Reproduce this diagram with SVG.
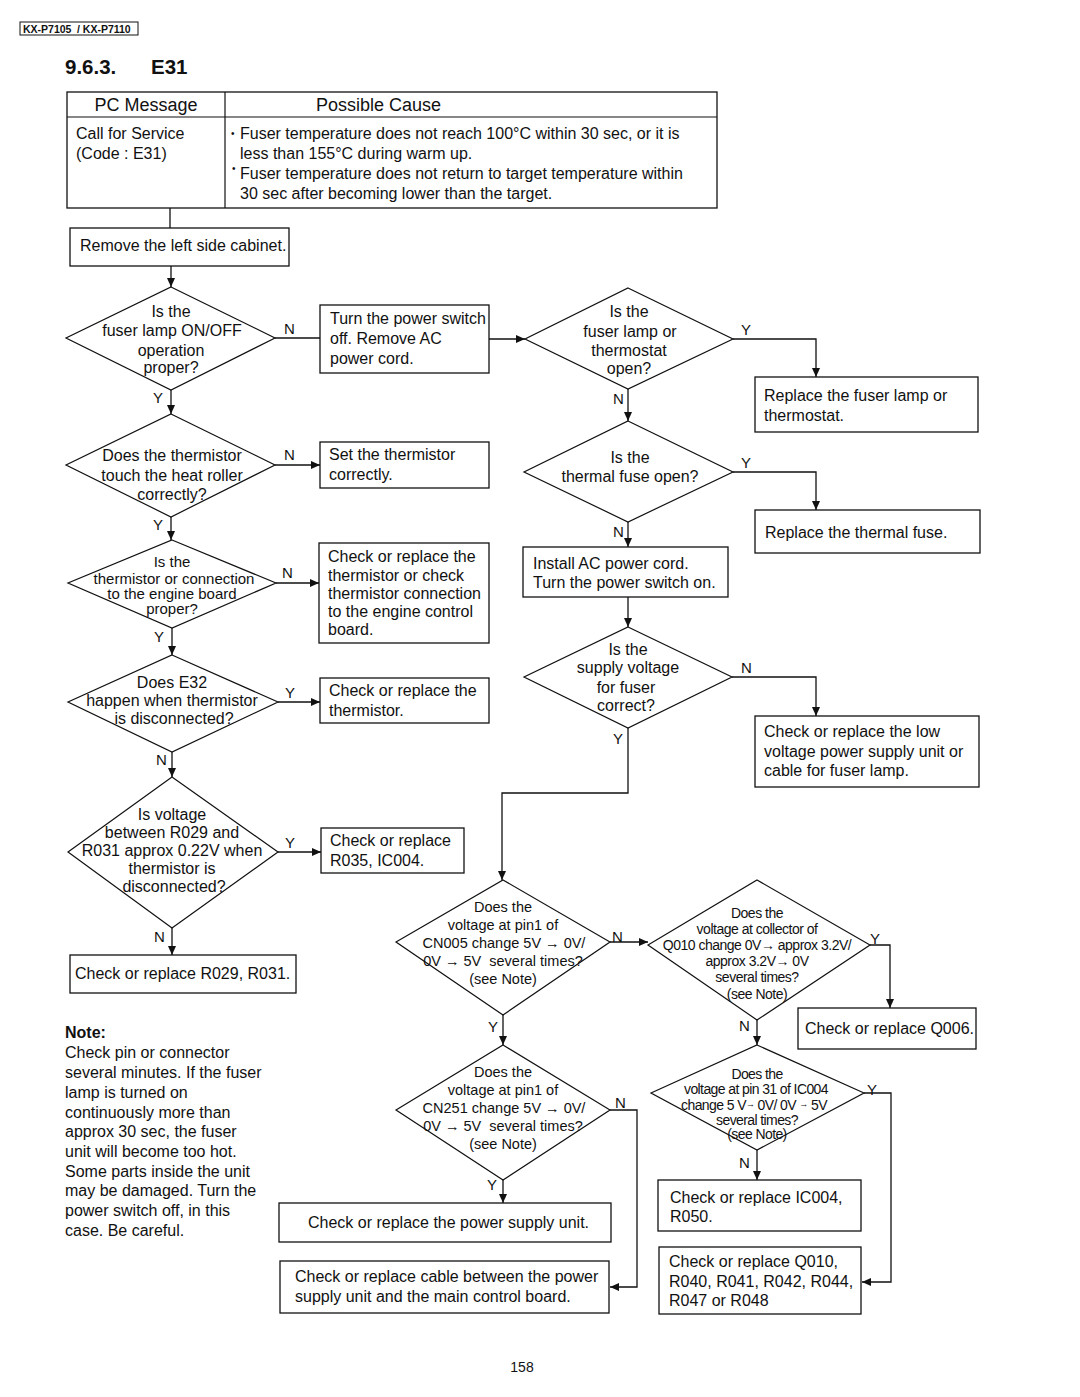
<svg xmlns="http://www.w3.org/2000/svg" width="1080" height="1397" viewBox="0 0 1080 1397">
<defs>
<marker id="ah" markerUnits="userSpaceOnUse" markerWidth="10" markerHeight="8" refX="9" refY="4" orient="auto">
<path d="M0,0 L9,4 L0,8 Z" fill="#111"/>
</marker>
<style>
text{font-family:"Liberation Sans",Arial,sans-serif;font-size:16px;fill:#111}
.b{fill:#fff;stroke:#111;stroke-width:1.3}
.d{fill:#fff;stroke:#111;stroke-width:1.2}
.c{fill:none;stroke:#111;stroke-width:1.3}
.a{marker-end:url(#ah)}
.m{text-anchor:middle}
.s{font-size:15px}
.p{font-size:14.5px}
.t{font-size:14px;letter-spacing:-0.5px}
.u{font-size:14px;letter-spacing:-0.6px}
.l{font-size:15px}
</style>
</defs>
<rect width="1080" height="1397" fill="#fff"/>

<g id="header">
<rect x="20" y="22" width="118" height="13" fill="#fff" stroke="#111" stroke-width="1"/>
<text x="23" y="32.5" style="font-size:10.5px;font-weight:bold">KX-P7105</text>
<text x="77" y="32.5" style="font-size:10.5px;font-weight:bold">/ KX-P7110</text>
<text x="65" y="74" style="font-size:20.5px;font-weight:bold">9.6.3.</text>
<text x="151" y="74" style="font-size:20.5px;font-weight:bold">E31</text>
</g>

<g id="table">
<rect x="67" y="92" width="650" height="116" fill="#fff" stroke="#111" stroke-width="1.3"/>
<line x1="67" y1="117" x2="717" y2="117" stroke="#111" stroke-width="1.2"/>
<line x1="225" y1="92" x2="225" y2="208" stroke="#111" stroke-width="1.2"/>
<text x="146" y="111" class="m" style="font-size:18px">PC Message</text>
<text x="316" y="111" style="font-size:18px">Possible Cause</text>
<text x="76" y="139">Call for Service</text>
<text x="76" y="159">(Code : E31)</text>
<text x="231" y="137" style="font-size:10px">•</text>
<text x="240" y="139">Fuser temperature does not reach 100°C within 30 sec, or it is</text>
<text x="240" y="159">less than 155°C during warm up.</text>
<text x="232" y="172" style="font-size:10px">•</text>
<text x="240" y="179">Fuser temperature does not return to target temperature within</text>
<text x="240" y="199">30 sec after becoming lower than the target.</text>
</g>

<g id="connectors">
<path class="c" d="M170,208 V228"/>
<path class="c a" d="M171,266 V287"/>
<path class="c" d="M275,338 H320"/>
<path class="c a" d="M489,339 H525"/>
<path class="c a" d="M171,390 V414"/>
<path class="c a" d="M275,465 H320"/>
<path class="c a" d="M171,517 V540"/>
<path class="c a" d="M276,583 H319"/>
<path class="c a" d="M172,628 V655"/>
<path class="c a" d="M278,702 H320"/>
<path class="c a" d="M172,752 V777"/>
<path class="c a" d="M278,852 H321"/>
<path class="c a" d="M172,928 V955"/>
<path class="c a" d="M733,339 H816 V377"/>
<path class="c a" d="M628,389 V421"/>
<path class="c a" d="M733,472 H816 V510"/>
<path class="c a" d="M628,522 V547"/>
<path class="c a" d="M628,597 V627"/>
<path class="c a" d="M732,677 H816 V716"/>
<path class="c a" d="M628,728 V793 H502 V880"/>
<path class="c a" d="M610,942 H648"/>
<path class="c a" d="M503,1015 V1045"/>
<path class="c a" d="M870,945 H890 V1008"/>
<path class="c a" d="M757,1020 V1045"/>
<path class="c a" d="M864,1093 H891 V1282 H862"/>
<path class="c a" d="M757,1150 V1180"/>
<path class="c a" d="M503,1180 V1203"/>
<path class="c a" d="M610,1110 H637 V1287 H610"/>
<g class="l">
<text x="284" y="334" class="l">N</text>
<text x="153" y="403" class="l">Y</text>
<text x="284" y="460" class="l">N</text>
<text x="153" y="530" class="l">Y</text>
<text x="282" y="578" class="l">N</text>
<text x="154" y="642" class="l">Y</text>
<text x="285" y="698" class="l">Y</text>
<text x="156" y="765" class="l">N</text>
<text x="285" y="848" class="l">Y</text>
<text x="154" y="942" class="l">N</text>
<text x="741" y="335" class="l">Y</text>
<text x="613" y="404" class="l">N</text>
<text x="741" y="468" class="l">Y</text>
<text x="613" y="537" class="l">N</text>
<text x="741" y="673" class="l">N</text>
<text x="613" y="744" class="l">Y</text>
<text x="612" y="942" class="l">N</text>
<text x="488" y="1032" class="l">Y</text>
<text x="870" y="944" class="l">Y</text>
<text x="739" y="1031" class="l">N</text>
<text x="867" y="1095" class="l">Y</text>
<text x="739" y="1168" class="l">N</text>
<text x="487" y="1190" class="l">Y</text>
<text x="615" y="1108" class="l">N</text>
</g>
</g>

<g id="n_remove">
<rect class="b" x="70" y="228" width="219" height="38"/>
<text x="80" y="251">Remove the left side cabinet.</text>
</g>

<g id="d_lamp_onoff">
<polygon class="d" points="171,287 275,338 171,390 66,338"/>
<text class="m" x="171" y="317">Is the</text>
<text class="m" x="172" y="336">fuser lamp ON/OFF</text>
<text class="m" x="171" y="356">operation</text>
<text class="m" x="171" y="373">proper?</text>
</g>

<g id="n_turnoff">
<rect class="b" x="320" y="305" width="169" height="68"/>
<text x="330" y="324">Turn the power switch</text>
<text x="330" y="344">off. Remove AC</text>
<text x="330" y="364">power cord.</text>
</g>

<g id="d_touch">
<polygon class="d" points="171,414 275,465 171,517 66,465"/>
<text class="m" x="172" y="461">Does the thermistor</text>
<text class="m" x="172" y="481">touch the heat roller</text>
<text class="m" x="172" y="500">correctly?</text>
</g>

<g id="n_set">
<rect class="b" x="320" y="442" width="169" height="46"/>
<text x="329" y="460">Set the thermistor</text>
<text x="329" y="480">correctly.</text>
</g>

<g id="d_connection">
<polygon class="d" points="172,540 276,583 172,628 68,583"/>
<text class="m s" x="172" y="567">Is the</text>
<text class="m s" x="174" y="584">thermistor or connection</text>
<text class="m s" x="172" y="599">to the engine board</text>
<text class="m s" x="172" y="614">proper?</text>
</g>

<g id="n_check_conn">
<rect class="b" x="319" y="543" width="170" height="100"/>
<text x="328" y="562">Check or replace the</text>
<text x="328" y="581">thermistor or check</text>
<text x="328" y="599">thermistor connection</text>
<text x="328" y="617">to the engine control</text>
<text x="328" y="635">board.</text>
</g>

<g id="d_e32">
<polygon class="d" points="172,655 278,702 172,752 68,702"/>
<text class="m" x="172" y="688">Does E32</text>
<text class="m" x="172" y="706">happen when thermistor</text>
<text class="m" x="174" y="724">is disconnected?</text>
</g>

<g id="n_thermistor">
<rect class="b" x="320" y="678" width="169" height="45"/>
<text x="329" y="696">Check or replace the</text>
<text x="329" y="716">thermistor.</text>
</g>

<g id="d_voltage">
<polygon class="d" points="172,777 278,852 172,928 68,852"/>
<text class="m" x="172" y="820">Is voltage</text>
<text class="m" x="172" y="838">between R029 and</text>
<text class="m" x="172" y="856">R031 approx 0.22V when</text>
<text class="m" x="172" y="874">thermistor is</text>
<text class="m" x="174" y="892">disconnected?</text>
</g>

<g id="n_r035">
<rect class="b" x="321" y="828" width="143" height="45"/>
<text x="330" y="846">Check or replace</text>
<text x="330" y="866">R035, IC004.</text>
</g>

<g id="n_r029">
<rect class="b" x="70" y="955" width="226" height="38"/>
<text x="75" y="979">Check or replace R029, R031.</text>
</g>

<g id="note">
<text x="65" y="1038" style="font-weight:bold">Note:</text>
<text x="65" y="1058">Check pin or connector</text>
<text x="65" y="1078">several minutes. If the fuser</text>
<text x="65" y="1098">lamp is turned on</text>
<text x="65" y="1118">continuously more than</text>
<text x="65" y="1137">approx 30 sec, the fuser</text>
<text x="65" y="1157">unit will become too hot.</text>
<text x="65" y="1177">Some parts inside the unit</text>
<text x="65" y="1196">may be damaged. Turn the</text>
<text x="65" y="1216">power switch off, in this</text>
<text x="65" y="1236">case. Be careful.</text>
</g>

<g id="d_lamp_open">
<polygon class="d" points="628,288 733,339 628,389 525,339"/>
<text class="m" x="629" y="317">Is the</text>
<text class="m" x="630" y="337">fuser lamp or</text>
<text class="m" x="629" y="356">thermostat</text>
<text class="m" x="629" y="374">open?</text>
</g>

<g id="n_replace_lamp">
<rect class="b" x="755" y="377" width="223" height="55"/>
<text x="764" y="401">Replace the fuser lamp or</text>
<text x="764" y="421">thermostat.</text>
</g>

<g id="d_thermal_fuse">
<polygon class="d" points="628,421 733,472 628,522 524,472"/>
<text class="m" x="630" y="463">Is the</text>
<text class="m" x="630" y="482">thermal fuse open?</text>
</g>

<g id="n_replace_fuse">
<rect class="b" x="755" y="510" width="225" height="43"/>
<text x="765" y="538">Replace the thermal fuse.</text>
</g>

<g id="n_install">
<rect class="b" x="523" y="547" width="205" height="50"/>
<text x="533" y="569">Install AC power cord.</text>
<text x="533" y="588">Turn the power switch on.</text>
</g>

<g id="d_supply">
<polygon class="d" points="628,627 732,677 628,728 524,677"/>
<text class="m" x="628" y="655">Is the</text>
<text class="m" x="628" y="673">supply voltage</text>
<text class="m" x="626" y="693">for fuser</text>
<text class="m" x="626" y="711">correct?</text>
</g>

<g id="n_low_voltage">
<rect class="b" x="755" y="716" width="224" height="71"/>
<text x="764" y="737">Check or replace the low</text>
<text x="764" y="757">voltage power supply unit or</text>
<text x="764" y="776">cable for fuser lamp.</text>
</g>

<g id="d_cn005">
<polygon class="d" points="503,880 610,942 503,1015 396,942"/>
<text class="m p" x="503" y="912">Does the</text>
<text class="m p" x="503" y="930">voltage at pin1 of</text>
<text class="m p" x="504" y="948">CN005 change 5V → 0V/</text>
<text class="m p" x="503" y="966" xml:space="preserve">0V → 5V  several times?</text>
<text class="m p" x="503" y="984">(see Note)</text>
</g>

<g id="d_q010">
<polygon class="d" points="757,880 870,945 757,1020 648,945"/>
<text class="m t" x="757" y="918">Does the</text>
<text class="m t" x="757" y="934">voltage at collector of</text>
<text class="m t" x="757" y="950">Q010 change 0V→ approx 3.2V/</text>
<text class="m t" x="757" y="966">approx 3.2V→ 0V</text>
<text class="m t" x="757" y="982">several times?</text>
<text class="m t" x="757" y="999">(see Note)</text>
</g>

<g id="n_q006">
<rect class="b" x="798" y="1008" width="178" height="41"/>
<text x="805" y="1034">Check or replace Q006.</text>
</g>

<g id="d_ic004">
<polygon class="d" points="757,1045 864,1093 757,1150 651,1093"/>
<text class="m u" x="757" y="1079">Does the</text>
<text class="m u" x="756" y="1094">voltage at pin 31 of IC004</text>
<text class="m u" x="754" y="1110">change 5 V<tspan dy="-3" font-size="9">→</tspan><tspan dy="3"> 0V/ 0V </tspan><tspan dy="-3" font-size="9">→</tspan><tspan dy="3">  5V</tspan></text>
<text class="m u" x="757" y="1125">several times?</text>
<text class="m u" x="757" y="1139">(see Note)</text>
</g>

<g id="n_ic004">
<rect class="b" x="658" y="1180" width="203" height="51"/>
<text x="670" y="1203">Check or replace IC004,</text>
<text x="670" y="1222">R050.</text>
</g>

<g id="n_q010">
<rect class="b" x="659" y="1247" width="202" height="67"/>
<text x="669" y="1267">Check or replace Q010,</text>
<text x="669" y="1287">R040, R041, R042, R044,</text>
<text x="669" y="1306">R047 or R048</text>
</g>

<g id="d_cn251">
<polygon class="d" points="503,1045 610,1110 503,1180 396,1110"/>
<text class="m p" x="503" y="1077">Does the</text>
<text class="m p" x="503" y="1095">voltage at pin1 of</text>
<text class="m p" x="504" y="1113">CN251 change 5V → 0V/</text>
<text class="m p" x="503" y="1131" xml:space="preserve">0V → 5V  several times?</text>
<text class="m p" x="503" y="1149">(see Note)</text>
</g>

<g id="n_psu">
<rect class="b" x="279" y="1203" width="332" height="39"/>
<text x="308" y="1228">Check or replace the power supply unit.</text>
</g>

<g id="n_cable">
<rect class="b" x="280" y="1261" width="329" height="52"/>
<text x="295" y="1282">Check or replace cable between the power</text>
<text x="295" y="1302">supply unit and the main control board.</text>
</g>

<text x="522" y="1372" class="m" style="font-size:14px">158</text>
</svg>
